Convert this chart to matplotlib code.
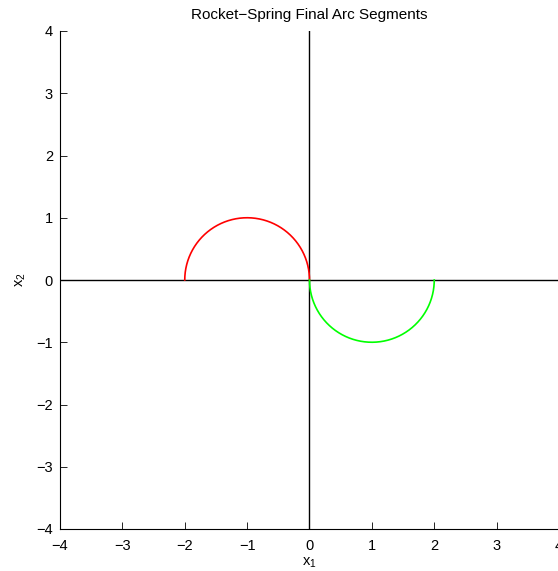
import numpy as np
import matplotlib
matplotlib.use('Agg')
import matplotlib.pyplot as plt

plt.rcParams['font.family'] = ['Liberation Sans', 'DejaVu Sans']
plt.rcParams['mathtext.default'] = 'regular'

# final arc segments: centre on the x1 axis, radius, start/end angle (deg), colour
arc_centers = [-1.0, 1.0]
arc_radius = [1.0, 1.0]
arc_start = [180.0, 180.0]
arc_end = [0.0, 360.0]
arc_colors = ['#ff0000', '#00ff00']

ticks = [-4, -3, -2, -1, 0, 1, 2, 3, 4]

fig = plt.figure(figsize=(5.58, 5.71), dpi=100)
ax = fig.add_axes([60 / 558, 1 - 529 / 571, 499 / 558, 498 / 571])

# coordinate axes through the origin
ax.axhline(0, color='k', lw=1.0)
ax.axvline(0, color='k', lw=1.0)

for c, r, a0, a1, col in zip(arc_centers, arc_radius, arc_start, arc_end, arc_colors):
    th = np.radians(np.linspace(a0, a1, 200))
    ax.plot(c + r * np.cos(th), r * np.sin(th), color=col, lw=1.2)

ax.set_xlim(-4, 4)
ax.set_ylim(-4, 4)
ax.set_xticks(ticks)
ax.set_yticks(ticks)
ax.tick_params(direction='in', length=5, width=0.6, labelsize=10.5)
ax.tick_params(axis='x', pad=7)
ax.tick_params(axis='y', pad=5)
for s in ['top', 'right']:
    ax.spines[s].set_visible(False)
for s in ['left', 'bottom']:
    ax.spines[s].set_linewidth(0.8)

ax.set_title('Rocket\u2212Spring Final Arc Segments', fontsize=11, pad=9)
ax.set_xlabel('x$_1$', fontsize=10.5, labelpad=2)
ax.set_ylabel('x$_2$', fontsize=10.5, labelpad=6)

fig.savefig('out.png', dpi=100)
